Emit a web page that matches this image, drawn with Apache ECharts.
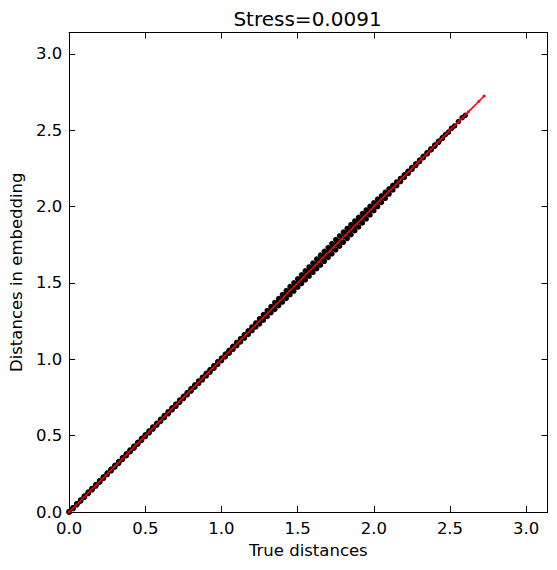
<!DOCTYPE html>
<html>
<head>
<meta charset="utf-8">
<script src="https://cdn.jsdelivr.net/npm/echarts@6/dist/echarts.min.js"></script>
<style>
  html, body { margin: 0; padding: 0; background: #fff; }
  #chart { width: 557px; height: 570px; }
</style>
</head>
<body>
<div id="chart"></div>
<script>
// true distances (x) and the spread of embedded distances around each of them
const trueDist = [
  0.000, 0.025, 0.050, 0.075, 0.100, 0.125, 0.150, 0.175, 0.200, 0.225,
  0.250, 0.275, 0.300, 0.325, 0.350, 0.375, 0.400, 0.425, 0.450, 0.475,
  0.500, 0.525, 0.550, 0.575, 0.600, 0.625, 0.650, 0.675, 0.700, 0.725,
  0.750, 0.775, 0.800, 0.825, 0.850, 0.875, 0.900, 0.925, 0.950, 0.975,
  1.000, 1.025, 1.050, 1.075, 1.100, 1.125, 1.150, 1.175, 1.200, 1.225,
  1.250, 1.275, 1.300, 1.325, 1.350, 1.375, 1.400, 1.425, 1.450, 1.475,
  1.500, 1.525, 1.550, 1.575, 1.600, 1.625, 1.650, 1.675, 1.700, 1.725,
  1.750, 1.775, 1.800, 1.825, 1.850, 1.875, 1.900, 1.925, 1.950, 1.975,
  2.000, 2.025, 2.050, 2.075, 2.100, 2.125, 2.150, 2.175, 2.200, 2.225,
  2.250, 2.275, 2.300, 2.325, 2.350, 2.375, 2.400, 2.425, 2.450
];
const embedHigh = [
  0.003, 0.028, 0.054, 0.079, 0.104, 0.130, 0.154, 0.180, 0.205, 0.230,
  0.255, 0.281, 0.306, 0.330, 0.356, 0.381, 0.406, 0.431, 0.456, 0.482,
  0.506, 0.532, 0.557, 0.581, 0.607, 0.632, 0.657, 0.682, 0.707, 0.733,
  0.757, 0.782, 0.808, 0.833, 0.858, 0.883, 0.908, 0.933, 0.958, 0.984,
  1.008, 1.034, 1.059, 1.085, 1.110, 1.135, 1.161, 1.186, 1.212, 1.238,
  1.266, 1.293, 1.319, 1.345, 1.372, 1.398, 1.424, 1.450, 1.476, 1.501,
  1.527, 1.553, 1.579, 1.605, 1.630, 1.656, 1.682, 1.707, 1.732, 1.758,
  1.783, 1.808, 1.833, 1.857, 1.882, 1.906, 1.930, 1.954, 1.978, 2.002,
  2.025, 2.048, 2.070, 2.094, 2.116, 2.139, 2.161, 2.184, 2.208, 2.232,
  2.256, 2.280, 2.305, 2.329, 2.354, 2.378, 2.403, 2.428, 2.452
];
const embedMid = [
  0.001, 0.025, 0.051, 0.074, 0.101, 0.124, 0.151, 0.176, 0.199, 0.226,
  0.251, 0.274, 0.301, 0.326, 0.349, 0.376, 0.401, 0.424, 0.451, 0.476,
  0.499, 0.526, 0.551, 0.574, 0.601, 0.626, 0.649, 0.676, 0.701, 0.724,
  0.751, 0.776, 0.799, 0.826, 0.851, 0.874, 0.901, 0.926, 0.949, 0.976,
  1.001, 1.024, 1.051, 1.076, 1.099, 1.126, 1.151, 1.174, 1.201, 1.226,
  1.249, 1.276, 1.301, 1.324, 1.351, 1.376, 1.399, 1.426, 1.451, 1.474,
  1.501, 1.526, 1.549, 1.576, 1.601, 1.624, 1.651, 1.676, 1.699, 1.726,
  1.751, 1.774, 1.801, 1.826, 1.849, 1.876, 1.901, 1.924, 1.951, 1.976,
  1.999, 2.026, 2.051, 2.074, 2.101, 2.126, 2.149, 2.176, 2.201, 2.224,
  2.251, 2.276, 2.299, 2.326, 2.351, 2.374, 2.401, 2.426, 2.449
];
const embedLow = [
  0.000, 0.022, 0.047, 0.071, 0.096, 0.121, 0.145, 0.170, 0.195, 0.220,
  0.245, 0.269, 0.294, 0.319, 0.344, 0.369, 0.394, 0.418, 0.444, 0.469,
  0.494, 0.518, 0.543, 0.569, 0.593, 0.618, 0.643, 0.668, 0.692, 0.718,
  0.743, 0.767, 0.792, 0.817, 0.842, 0.866, 0.891, 0.916, 0.941, 0.966,
  0.991, 1.016, 1.040, 1.065, 1.089, 1.114, 1.138, 1.163, 1.187, 1.212,
  1.232, 1.256, 1.281, 1.305, 1.327, 1.351, 1.375, 1.399, 1.423, 1.447,
  1.472, 1.496, 1.520, 1.544, 1.569, 1.593, 1.617, 1.642, 1.667, 1.691,
  1.716, 1.741, 1.766, 1.791, 1.816, 1.842, 1.867, 1.893, 1.919, 1.945,
  1.973, 1.999, 2.027, 2.054, 2.082, 2.109, 2.137, 2.164, 2.191, 2.217,
  2.243, 2.269, 2.294, 2.320, 2.345, 2.371, 2.396, 2.421, 2.447
];
// sparse points at the upper end
const tailTrue  = [2.470, 2.490, 2.510, 2.530, 2.555, 2.580, 2.600];
const tailEmbed = [2.472, 2.488, 2.513, 2.528, 2.557, 2.582, 2.598];
// red reference line y = x
const lineVals = [0.000, 2.620, 2.690, 2.724];
const tickVals = [0.0, 0.5, 1.0, 1.5, 2.0, 2.5, 3.0];
const axisMax = 3.14;

const font = 'DejaVu Sans';

const points = [];
trueDist.forEach((t, i) => {
  points.push([t, embedHigh[i]], [t, embedMid[i]], [t, embedLow[i]]);
});
tailTrue.forEach((t, i) => points.push([t, tailEmbed[i]]));

const fmt = v => tickVals.some(t => Math.abs(t - v) < 1e-6) ? v.toFixed(1) : '';

const baseAxis = {
  type: 'value',
  min: 0,
  max: axisMax,
  interval: 0.5,
  splitLine: { show: false },
  axisLine: { show: true, onZero: false, lineStyle: { color: '#000', width: 1 } },
  axisTick: { show: true, inside: true, length: 6, lineStyle: { color: '#000', width: 1 } }
};

const chart = echarts.init(document.getElementById('chart'), null, { renderer: 'svg' });
chart.setOption({
  animation: false,
  backgroundColor: '#fff',
  grid: { left: 67.5, right: 9.5, top: 32.5, bottom: 58, containLabel: false },
  graphic: [{
    type: 'text',
    x: 307.5,
    y: 18.5,
    style: {
      text: 'Stress=0.0091',
      fontFamily: font,
      fontSize: 20,
      fill: '#000',
      align: 'center',
      verticalAlign: 'middle'
    }
  }],
  xAxis: [
    Object.assign({}, baseAxis, {
      position: 'bottom',
      name: 'True distances',
      nameLocation: 'middle',
      nameGap: 15,
      nameTextStyle: { fontFamily: font, fontSize: 16.5, color: '#000' },
      axisLabel: { formatter: fmt, margin: 8, fontFamily: font, fontSize: 16.5, color: '#000' }
    }),
    Object.assign({}, baseAxis, { position: 'top', axisLabel: { show: false } })
  ],
  yAxis: [
    Object.assign({}, baseAxis, {
      position: 'left',
      name: 'Distances in embedding',
      nameLocation: 'middle',
      nameGap: 43,
      nameTextStyle: { fontFamily: font, fontSize: 16.5, color: '#000' },
      axisLabel: { formatter: fmt, margin: 7, fontFamily: font, fontSize: 16.5, color: '#000' }
    }),
    Object.assign({}, baseAxis, { position: 'right', axisLabel: { show: false } })
  ],
  series: [
    {
      type: 'scatter',
      data: points,
      symbol: 'circle',
      symbolSize: 5.5,
      itemStyle: { color: '#000', opacity: 1 },
      silent: true,
      z: 2
    },
    {
      type: 'line',
      data: lineVals.map(v => [v, v]),
      symbol: 'circle',
      symbolSize: 3,
      showSymbol: true,
      lineStyle: { color: '#ff0000', width: 1.6 },
      itemStyle: { color: '#ff0000', borderWidth: 0, opacity: 1 },
      silent: true,
      z: 3
    }
  ]
});
</script>
</body>
</html>
